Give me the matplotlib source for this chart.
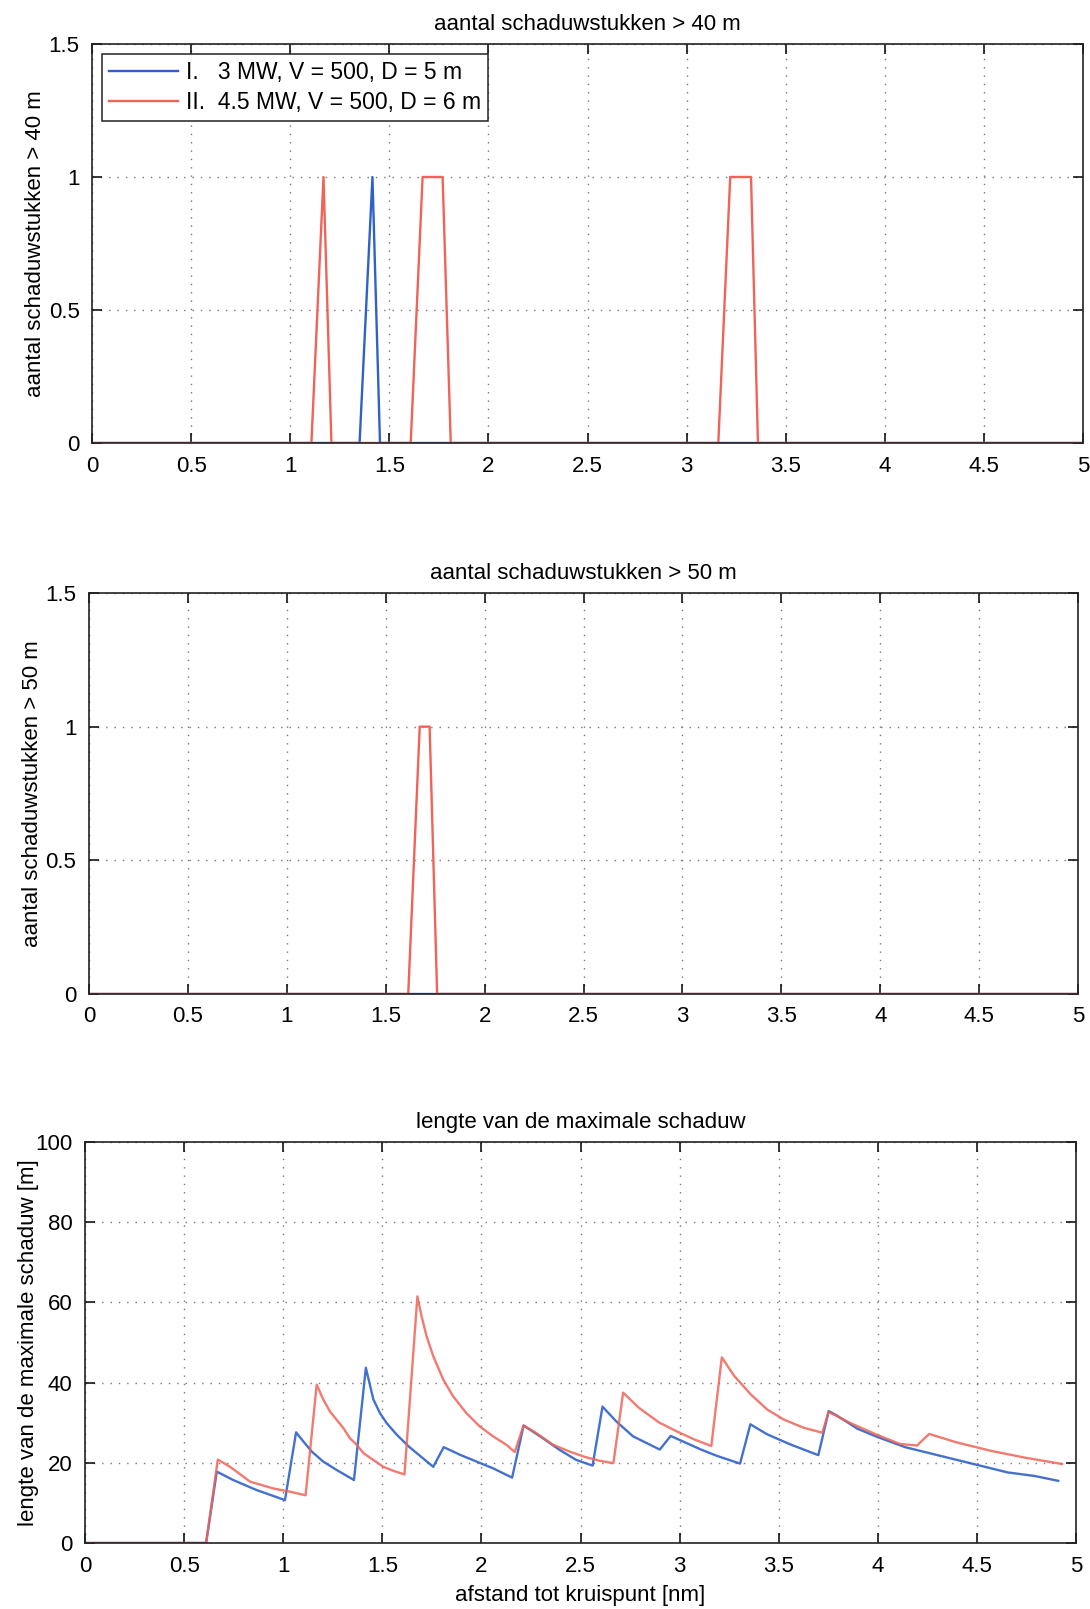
import numpy as np
import matplotlib
matplotlib.use('Agg')
import matplotlib.pyplot as plt

plt.rcParams['font.family'] = ['Liberation Sans', 'DejaVu Sans']
plt.rcParams['font.size'] = 15

# ---- data ----
# panel 1: aantal schaduwstukken > 40 m
p1_blue_x = [0, 1.35, 1.415, 1.453, 5.0]
p1_blue_y = [0, 0, 1, 0, 0]
p1_red_x = [0, 1.107, 1.168, 1.208, 1.608, 1.668, 1.769, 1.81, 3.16, 3.22, 3.325, 3.36, 5.0]
p1_red_y = [0, 0, 1, 0, 0, 1, 1, 0, 0, 1, 1, 0, 0]

# panel 2: aantal schaduwstukken > 50 m
p2_blue_x = [0, 5.0]
p2_blue_y = [0, 0]
p2_red_x = [0, 1.614, 1.672, 1.722, 1.76, 5.0]
p2_red_y = [0, 0, 1, 1, 0, 0]

# panel 3: lengte van de maximale schaduw [m]
p3_blue_x = [0, 0.611, 0.665, 0.748, 0.866, 1.009, 1.065, 1.102, 1.144, 1.202, 1.27, 1.357,
             1.417, 1.455, 1.488, 1.522, 1.573, 1.635, 1.757, 1.81, 1.892, 1.976, 2.06, 2.155,
             2.213, 2.311, 2.395, 2.479, 2.561, 2.611, 2.681, 2.765, 2.9, 2.955,
             3.108, 3.19, 3.305, 3.357, 3.442, 3.558, 3.70, 3.752, 3.793, 3.897,
             4.0, 4.138, 4.31, 4.483, 4.655, 4.793, 4.91]
p3_blue_y = [0, 0, 17.8, 15.7, 13.2, 10.7, 27.6, 25.3, 22.8, 20.3, 18.2, 15.7,
             43.7, 35.8, 32.4, 29.9, 27.0, 24.0, 19.0, 23.9, 22.0, 20.3, 18.6, 16.3,
             29.3, 26.1, 23.2, 20.7, 19.3, 34.0, 30.3, 26.6, 23.3, 26.7,
             23.3, 21.7, 19.8, 29.6, 27.1, 24.6, 21.9, 32.9, 31.8, 28.5,
             26.4, 23.9, 21.8, 19.7, 17.6, 16.7, 15.5]
p3_red_x = [0, 0.611, 0.670, 0.732, 0.833, 0.95, 1.034, 1.113, 1.169, 1.202, 1.236, 1.27,
            1.303, 1.337, 1.371, 1.405, 1.455, 1.505, 1.556, 1.612, 1.677, 1.698, 1.723,
            1.757, 1.807, 1.857, 1.924, 1.991, 2.059, 2.126, 2.168, 2.213, 2.277, 2.361,
            2.445, 2.52, 2.597, 2.666, 2.715, 2.795, 2.895, 2.983, 3.075, 3.16, 3.213,
            3.275, 3.358, 3.442, 3.525, 3.625, 3.72, 3.752, 3.858, 3.99, 4.112, 4.198,
            4.259, 4.397, 4.569, 4.741, 4.93]
p3_red_y = [0, 0, 20.8, 19.0, 15.3, 13.6, 12.8, 11.9, 39.5, 35.8, 32.8, 30.7,
            28.7, 26.1, 24.5, 22.4, 20.7, 19.0, 18.0, 17.1, 61.5, 56.6, 51.6,
            46.6, 40.8, 36.6, 32.4, 29.1, 26.6, 24.5, 22.7, 29.3, 27.4, 24.5,
            22.8, 21.5, 20.5, 19.9, 37.5, 33.7, 30.1, 27.9, 25.8, 24.2, 46.3,
            41.7, 37.1, 33.3, 30.8, 28.75, 27.5, 32.7, 30.0, 27.1, 24.7, 24.3,
            27.2, 25.1, 23.0, 21.3, 19.7]

labels = ['I.   3 MW, V = 500, D = 5 m', 'II.  4.5 MW, V = 500, D = 6 m']
titles = ['aantal schaduwstukken > 40 m', 'aantal schaduwstukken > 50 m',
          'lengte van de maximale schaduw']
ylabels = ['aantal schaduwstukken > 40 m', 'aantal schaduwstukken > 50 m',
           'lengte van de maximale schaduw [m]']
xticks = np.arange(0, 5.01, 0.5)
xticklabels = ['0', '0.5', '1', '1.5', '2', '2.5', '3', '3.5', '4', '4.5', '5']

BLUE = '#2f62c8'
RED = '#ef6358'

W, H = 1090, 1609
fig = plt.figure(figsize=(W / 100, H / 100), dpi=100)

# axes rectangles in pixels (left, top, right, bottom)
boxes = [(92, 44, 1083, 443), (89, 593, 1078, 994), (85, 1142, 1076, 1543)]
axes = []
for (l, t, r, b) in boxes:
    ax = fig.add_axes([l / W, 1 - b / H, (r - l) / W, (b - t) / H])
    axes.append(ax)


def style(ax, yticks, yticklabels, ylim):
    ax.set_xlim(0, 5)
    ax.set_ylim(*ylim)
    ax.set_xticks(xticks)
    ax.set_xticklabels(xticklabels)
    ax.set_yticks(yticks)
    ax.set_yticklabels(yticklabels)
    ax.tick_params(direction='in', length=7, width=1.1, top=True, right=True,
                   labelsize=16, pad=9)
    ax.grid(True, color='#777777', linestyle=(0, (1, 5)), linewidth=1.0)
    for s in ax.spines.values():
        s.set_linewidth(1.2)
        s.set_color('#222222')


ax1, ax2, ax3 = axes
lw = 1.7
ax1.plot(p1_blue_x, p1_blue_y, color=BLUE, lw=lw, label=labels[0])
ax1.plot(p1_red_x, p1_red_y, color=RED, lw=lw, label=labels[1])
style(ax1, [0, 0.5, 1, 1.5], ['0', '0.5', '1', '1.5'], (0, 1.5))
leg = ax1.legend(loc='upper left', fontsize=16.5, handlelength=3.0, fancybox=False,
                 edgecolor='#222222', framealpha=1, borderaxespad=0.45,
                 borderpad=0.3, labelspacing=0.3, handletextpad=0.35)
leg.get_frame().set_linewidth(1.1)

ax2.plot(p2_blue_x, p2_blue_y, color=BLUE, lw=lw)
ax2.plot(p2_red_x, p2_red_y, color=RED, lw=lw)
style(ax2, [0, 0.5, 1, 1.5], ['0', '0.5', '1', '1.5'], (0, 1.5))

ax3.plot(p3_blue_x, p3_blue_y, color=BLUE, lw=lw, alpha=0.9)
ax3.plot(p3_red_x, p3_red_y, color=RED, lw=lw, alpha=0.85)
style(ax3, np.arange(0, 101, 20), [str(v) for v in range(0, 101, 20)], (0, 100))
ax3.set_xlabel('afstand tot kruispunt [nm]', fontsize=16, labelpad=6)

for ax, t, yl in zip(axes, titles, ylabels):
    ax.set_title(t, fontsize=16, pad=10)
    ax.set_ylabel(yl, fontsize=16)
    ax.yaxis.set_label_coords(-46 / (ax.get_position().width * W), 0.5)

fig.savefig('out.png', dpi=100, facecolor='white')
